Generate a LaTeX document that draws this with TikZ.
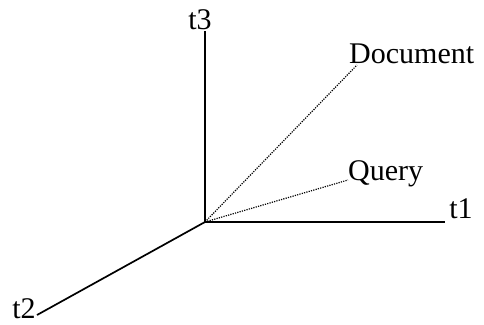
\documentclass[tikz,border=0pt]{standalone}
\usepackage{fontspec}
\setmainfont{Liberation Serif}
\begin{document}
\begin{tikzpicture}[x=1pt,y=-1pt,
  lbl/.style={inner sep=0pt,font=\fontsize{30}{33}\selectfont},
  axis/.style={line width=1.7pt},
  vec/.style={line width=1.2pt,dash pattern=on 1.2pt off 1.2pt}]
\useasboundingbox (0,0) rectangle (484,324);
\coordinate (O) at (205,222);
\coordinate (e3) at (205,31);
\coordinate (e1) at (445,222);
\coordinate (e2) at (37,315);
\coordinate (d) at (357,65);
\coordinate (q) at (348,180);
\node[lbl] (t3) at (200,20) {t3};
\node[lbl] (t1) at (461,209) {t1};
\node[lbl] (t2) at (24,309) {t2};
\node[lbl,anchor=base west] (doc) at (349,63) {Document};
\node[lbl,anchor=base west] (qry) at (348,180) {Query};
\draw[axis] (O) -- (e3);
\draw[axis] (O) -- (e1);
\draw[axis] (O) -- (e2);
\draw[vec] (O) -- (d);
\draw[vec] (O) -- (q);
\end{tikzpicture}
\end{document}
